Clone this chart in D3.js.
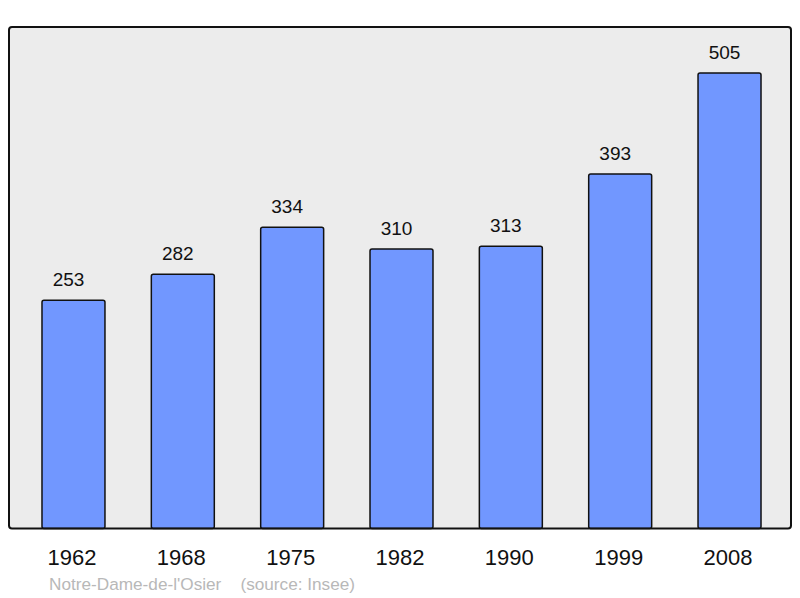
<!DOCTYPE html>
<html><head><meta charset="utf-8">
<script src="https://cdn.jsdelivr.net/npm/d3@7"></script>
<style>body{margin:0;background:#fff}svg{display:block}</style>
</head><body>
<svg id="c" width="800" height="598"></svg>
<script>
const years = ["1962","1968","1975","1982","1990","1999","2008"];
const population = [253,282,334,310,313,393,505];
const caption = "Notre-Dame-de-l'Osier    (source: Insee)";

(function(){
const svg = d3.select("#c");
const pL = 9, pR = 791, pT = 27, pB = 528.5;

svg.append("rect").attr("x", pL).attr("y", pT).attr("width", pR-pL).attr("height", pB-pT)
  .attr("rx", 3).attr("fill", "#ececec");

const x = d3.scaleBand().domain(years).range([pL+1.5, pR+1.5]).paddingInner(0.424).paddingOuter(0.288);
const y = d3.scaleLinear().domain([0, 556]).range([pB, pT]);

const g = svg.append("g");
g.selectAll("rect.bar").data(years).join("rect").attr("class","bar")
  .attr("x", d => x(d)).attr("width", x.bandwidth())
  .attr("y", (d,i) => y(population[i])).attr("height", (d,i) => pB - y(population[i]))
  .attr("rx", 2).attr("fill", "#7197ff").attr("stroke", "#111").attr("stroke-width", 1.5);

g.selectAll("text.val").data(years).join("text").attr("class","val")
  .attr("x", d => x(d) + x.bandwidth()/2 - 5).attr("y", (d,i) => y(population[i]) - 14)
  .attr("text-anchor","middle").attr("font-family","Liberation Sans, Arial, sans-serif")
  .attr("font-size", 19).attr("fill","#111").text((d,i) => population[i]);

svg.append("rect").attr("x", pL).attr("y", pT).attr("width", pR-pL).attr("height", pB-pT)
  .attr("rx", 3).attr("fill", "none").attr("stroke", "#111").attr("stroke-width", 2);

const ax = svg.append("g").attr("transform", `translate(-1.5,${pB})`)
  .call(d3.axisBottom(x).tickSize(0).tickPadding(0));
ax.select(".domain").remove();
ax.selectAll("text").attr("font-family","Liberation Sans, Arial, sans-serif").attr("font-size", 22)
  .attr("fill","#111").attr("dy", null).attr("y", 36);

svg.append("text").attr("x", 49).attr("y", 590).attr("font-family","Liberation Sans, Arial, sans-serif")
  .attr("font-size", 17.2).attr("fill","#b8b8b8").style("white-space","pre").text(caption);
})();
</script>
</body></html>
